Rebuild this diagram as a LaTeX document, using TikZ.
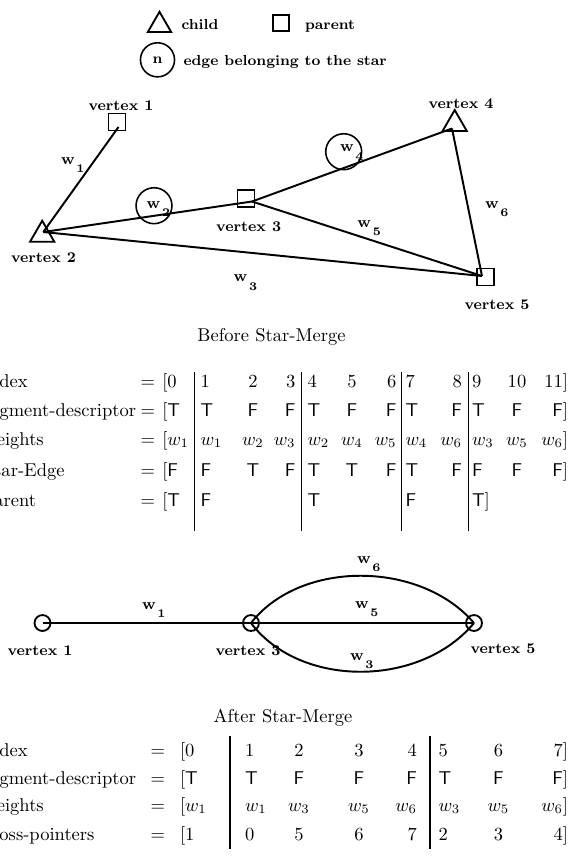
\documentclass[tikz,border=0pt]{standalone}
\usetikzlibrary{shapes.geometric}
\newcommand{\wsub}[1]{{\fontsize{8.3}{9}\selectfont\bfseries w}\hspace{1pt}\raisebox{-4.5pt}{\fontsize{6.3}{7}\selectfont\bfseries #1}}
\newcommand{\vT}{\textsf{T}}
\newcommand{\vF}{\textsf{F}}
\begin{document}
\begin{tikzpicture}[x=0.54pt,y=-0.54pt,
  every node/.style={inner sep=0pt, outer sep=0pt},
  conn/.style={line width=1.05pt},
  sq/.style={draw, line width=1pt, minimum size=9.2pt},
  tri/.style={draw, line width=1pt, regular polygon, regular polygon sides=3, minimum size=15.1pt},
  starc/.style={draw, line width=0.85pt, circle, minimum size=19.4pt},
  gcirc/.style={draw, circle, line width=1pt, minimum size=8.6pt},
  vlab/.style={font=\fontsize{8}{9.6}\selectfont\bfseries, anchor=base},
  lgd/.style={font=\fontsize{7.8}{9.6}\selectfont\bfseries, anchor=base west},
  wlab/.style={anchor=base west},
  tab/.style={font=\fontsize{10}{12}\selectfont},
  colL/.style={anchor=base west}, colC/.style={anchor=base}, colR/.style={anchor=base east},
  seprule/.style={line width=0.85pt}
]
\path[use as bounding box] (0,0) rectangle (568,857);
\clip (0,0) rectangle (568,857);

% ---------------- legend
\node[tri, minimum size=14.6pt] (lt) at (159.5,25.3) {};
\node[lgd] (lchild) at (181.5,29) {child};
\node[sq, minimum size=9pt] (lsq) at (281,22.9) {};
\node[lgd] (lparent) at (305,29) {parent};
\node[draw, circle, line width=0.85pt, minimum size=18.4pt, font=\fontsize{7.8}{9.6}\selectfont\bfseries] (lc) at (157.5,59.8) {n};
\node[lgd] (ledge) at (183.5,65) {edge belonging to the star};

% ---------------- graph before
\coordinate (j1) at (118.5,127);
\coordinate (j2) at (43.3,232);
\coordinate (j3) at (252,201.5);
\coordinate (j4) at (452,128.5);
\coordinate (j5) at (482,276);
\node[sq] (v1) at (117,122) {};
\node[tri] (v2) at (42.2,234.7) {};
\node[sq] (v3) at (246,198.7) {};
\node[tri] (v4) at (454.7,124) {};
\node[sq] (v5) at (485.3,277) {};
\draw[conn] (j1) -- (j2);
\draw[conn] (j2) -- (j3);
\draw[conn] (j3) -- (j4);
\draw[conn] (j3) -- (j5);
\draw[conn] (j4) -- (j5);
\draw[conn] (j2) -- (j5);
\node[starc] (s2) at (154,205.7) {};
\node[starc] (s4) at (343.7,151.7) {};
\node[vlab] (lv1) at (121,110.7) {vertex 1};
\node[vlab] (lv2) at (43.5,262) {vertex 2};
\node[vlab] (lv3) at (248.7,231.7) {vertex 3};
\node[vlab] (lv4) at (461,108.3) {vertex 4};
\node[vlab] (lv5) at (497,309.5) {vertex 5};
\node[wlab] (w1) at (61,164) {\wsub{1}};
\node[wlab] (w2) at (146.7,208.3) {\wsub{2}};
\node[wlab] (w3) at (233.7,281.7) {\wsub{3}};
\node[wlab] (w4) at (340,151.7) {\wsub{4}};
\node[wlab] (w5) at (357.3,227.3) {\wsub{5}};
\node[wlab] (w6) at (485,208.3) {\wsub{6}};

\node[tab, anchor=base] (before) at (271.5,341.5) {Before Star-Merge};

% ---------------- table 1
\foreach \lab/\yy [count=\r] in {index/387, segment-descriptor/416, weights/445, Star-Edge/476, parent/506}{
  \node[tab, anchor=base west] (a\r lab) at (-16,\yy) {\lab};
  \node[tab, anchor=base west] (a\r eq) at (140.7,\yy) {=};
}
\foreach \xx/\st/\tx [count=\k] in {162.3/colL/[0, 200.5/colL/1, 253/colC/2, 295.5/colR/3, 307.5/colL/4, 352/colC/5, 396.5/colR/6, 405.5/colL/7, 462/colR/8, 472/colL/9, 517/colC/10, 568/colR/11]}
  \node[tab,\st] (a1c\k) at (\xx,387) {\tx};
\foreach \xx/\st/\tx [count=\k] in {162.3/colL/[\vT, 200.5/colL/\vT, 253/colC/\vF, 295.5/colR/\vF, 307.5/colL/\vT, 352/colC/\vF, 396.5/colR/\vF, 405.5/colL/\vT, 462/colR/\vF, 472/colL/\vT, 517/colC/\vF, 568/colR/\vF]}
  \node[tab,\st] (a2c\k) at (\xx,416) {\tx};
\foreach \xx/\st/\tx [count=\k] in {162.3/colL/$[w_1$, 200.5/colL/$w_1$, 253/colC/$w_2$, 295.5/colR/$w_3$, 307.5/colL/$w_2$, 352/colC/$w_4$, 396.5/colR/$w_5$, 405.5/colL/$w_4$, 462/colR/$w_6$, 472/colL/$w_3$, 517/colC/$w_5$, 568/colR/$w_6]$}
  \node[tab,\st] (a3c\k) at (\xx,445) {\tx};
\foreach \xx/\st/\tx [count=\k] in {162.3/colL/[\vF, 200.5/colL/\vF, 253/colC/\vT, 295.5/colR/\vF, 307.5/colL/\vT, 352/colC/\vT, 396.5/colR/\vF, 405.5/colL/\vT, 462/colR/\vF, 472/colL/\vF, 517/colC/\vF, 568/colR/\vF]}
  \node[tab,\st] (a4c\k) at (\xx,476) {\tx};
\foreach \xx/\st/\tx [count=\k] in {162.3/colL/[\vT, 200.5/colL/\vF, 307.5/colL/\vT, 405.5/colL/\vF, 472/colL/\vT]}
  \node[tab,\st] (a5c\k) at (\xx,506) {\tx};
\foreach \xx in {194.3, 301.7, 401.7, 468.3}
  \draw[seprule] (\xx,372) -- (\xx,531);

% ---------------- graph after
\node[gcirc] (c1) at (42.5,623) {};
\node[gcirc] (c3) at (251,623) {};
\node[gcirc] (c5) at (474,623) {};
\draw[conn] (c1.center) -- (c3.center);
\draw[conn] (c3.center) -- (c5.center);
\draw[conn] (c3.center) .. controls (300,560) and (420,560) .. (c5.center);
\draw[conn] (c3.center) .. controls (300,688) and (420,688) .. (c5.center);
\node[vlab] (m1) at (40,655) {vertex 1};
\node[vlab] (m3) at (248,655) {vertex 3};
\node[vlab] (m5) at (503,653) {vertex 5};
\node[wlab] (x1) at (142,609) {\wsub{1}};
\node[wlab] (x6) at (357,563) {\wsub{6}};
\node[wlab] (x5) at (355,608) {\wsub{5}};
\node[wlab] (x3) at (350,660) {\wsub{3}};

\node[tab, anchor=base] (after) at (283,722) {After Star-Merge};

% ---------------- table 2
\foreach \lab/\yy [count=\r] in {index/756, segment-descriptor/784, weights/811, cross-pointers/840}{
  \node[tab, anchor=base west] (b\r lab) at (-16,\yy) {\lab};
  \node[tab, anchor=base west] (b\r eq) at (150.7,\yy) {=};
}
\foreach \xx/\st/\tx [count=\k] in {180/colL/[0, 245/colL/1, 299/colC/2, 359/colC/3, 417/colR/4, 438.5/colL/5, 498.5/colC/6, 568/colR/7]}
  \node[tab,\st] (b1c\k) at (\xx,756) {\tx};
\foreach \xx/\st/\tx [count=\k] in {180/colL/[\vT, 245/colL/\vT, 299/colC/\vF, 359/colC/\vF, 417/colR/\vF, 438.5/colL/\vT, 498.5/colC/\vF, 568/colR/\vF]}
  \node[tab,\st] (b2c\k) at (\xx,784) {\tx};
\foreach \xx/\st/\tx [count=\k] in {180/colL/$[w_1$, 245/colL/$w_1$, 299/colC/$w_3$, 359/colC/$w_5$, 417/colR/$w_6$, 438.5/colL/$w_3$, 498.5/colC/$w_5$, 568/colR/$w_6]$}
  \node[tab,\st] (b3c\k) at (\xx,811) {\tx};
\foreach \xx/\st/\tx [count=\k] in {180/colL/[1, 245/colL/0, 299/colC/5, 359/colC/6, 417/colR/7, 438.5/colL/2, 498.5/colC/3, 568/colR/4]}
  \node[tab,\st] (b4c\k) at (\xx,840) {\tx};
\foreach \xx in {230, 430}
  \draw[seprule] (\xx,736) -- (\xx,849);
\end{tikzpicture}
\end{document}
